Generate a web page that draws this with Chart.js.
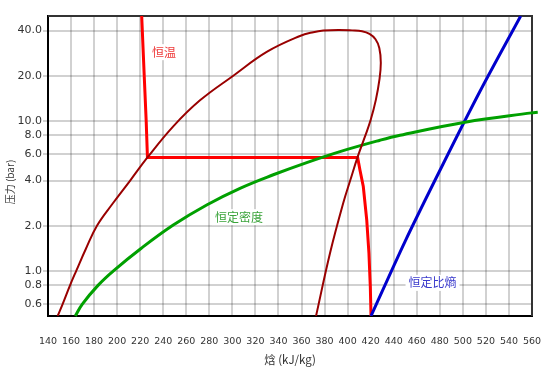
<!DOCTYPE html>
<html>
<head>
<meta charset="utf-8">
<script src="https://cdn.jsdelivr.net/npm/chart.js@4/dist/chart.umd.min.js"></script>
<style>
html,body{margin:0;padding:0;background:#fff;}
#c{display:block;}
</style>
</head>
<body>
<canvas id="c" width="552" height="370" style="width:552px;height:370px"></canvas>
<script>
// ---- axis ticks ----
const xTickValues = [140,160,180,200,220,240,260,280,300,320,340,360,380,400,420,440,460,480,500,520,540,560];
const yTickValues = [0.6,0.8,1.0,2.0,4.0,6.0,8.0,10.0,20.0,40.0];

// ---- saturation dome (enthalpy kJ/kg, pressure bar) ----
const domeH = [148.4,152.7,159.1,164.5,173.0,182.5,196.0,211.3,226.3,248.7,271.9,300.8,329.8,358.7,370.2,378.9,392.0,403.8,412.5,419.0,424.2,427.5,428.8,427.6,424.5,420.1,415.1,408.7,402.5,396.2,384.7,372.6];
const domeP = [0.5,0.6,0.8,1.0,1.41,2.0,2.8,4.0,5.7,9.19,13.7,20.0,28.8,36.8,39.0,40.0,40.4,40.1,39.6,38.0,35.0,30.6,24.4,18.8,13.8,10.2,7.87,5.75,4.06,2.83,1.31,0.5];

// ---- isotherm (恒温) ----
const isothermH = [221.3,223.5,225.2,226.3,408.7,410.7,413.6,416.6,418.5,419.7,420.3];
const isothermP = [50,20,10,5.7,5.7,4.7,3.65,2.18,1.31,0.78,0.5];

// ---- isochore (恒定密度) ----
const isochoreH = [163.7,169.8,183.4,196.8,220.7,248.7,277.7,306.6,335.5,364.5,393.4,428.1,445.5,501.9,559.7,565.0];
const isochoreP = [0.5,0.6,0.8,1.0,1.41,2.02,2.75,3.55,4.37,5.27,6.24,7.43,8.02,9.8,11.3,11.4];

// ---- isentrope (恒定比熵) ----
const isentropeH = [420.3,450.0,482.0,515.0,550.2];
const isentropeP = [0.5,1.58,5.0,15.8,50];

// ---- curve labels ----
const curveLabels = ['恒温','恒定密度','恒定比熵'];
const curveLabelH = [240.7,305.7,473.7];
const curveLabelP = [28.7,2.28,0.831];
const curveLabelColors = ['#ee3a3a','#3aa33a','#3a3acc'];

const toPts = (hs, ps) => hs.map((h, i) => ({x: h, y: ps[i]}));

const FONT = "'DejaVu Sans', Verdana, sans-serif";
const CJK = "'Noto Sans CJK SC', 'DejaVu Sans', sans-serif";

const framePlugin = {
  id: 'frame',
  beforeDatasetsDraw(chart) {
    const {ctx, chartArea: a} = chart;
    ctx.save();
    ctx.strokeStyle = '#333';
    ctx.lineWidth = 2;
    ctx.beginPath();
    ctx.moveTo(a.left, a.top);
    ctx.lineTo(a.right, a.top);
    ctx.lineTo(a.right, a.bottom);
    ctx.stroke();
    ctx.restore();
  },
  afterDatasetsDraw(chart) {
    const {ctx, scales: {x, y}} = chart;
    ctx.save();
    ctx.font = '12px ' + CJK;
    ctx.textBaseline = 'middle';
    ctx.textAlign = 'center';
    curveLabels.forEach((t, i) => {
      const px = x.getPixelForValue(curveLabelH[i]);
      const py = y.getPixelForValue(curveLabelP[i]);
      const w = ctx.measureText(t).width;
      ctx.fillStyle = '#fff';
      ctx.fillRect(px - w / 2 - 3, py - 8, w + 6, 16);
      ctx.fillStyle = curveLabelColors[i];
      ctx.fillText(t, px, py);
    });
    // y axis title
    ctx.translate(10, chart.height / 2 - 3);
    ctx.rotate(-Math.PI / 2);
    ctx.font = '10px ' + CJK;
    ctx.fillStyle = '#333';
    ctx.fillText('压力 (bar)', 0, 0);
    ctx.restore();
  }
};

new Chart(document.getElementById('c'), {
  type: 'scatter',
  data: {
    datasets: [
      {label: 'dome', data: toPts(domeH, domeP), borderColor: '#990000', borderWidth: 2, tension: 0.4},
      {label: '恒定密度', data: toPts(isochoreH, isochoreP), borderColor: '#00a000', borderWidth: 3, tension: 0.4,
       clip: {left: 2, top: 2, right: 8, bottom: 2}},
      {label: '恒定比熵', data: toPts(isentropeH, isentropeP), borderColor: '#0000cc', borderWidth: 3, tension: 0.3},
      {label: '恒温', data: toPts(isothermH, isothermP), borderColor: '#ff0000', borderWidth: 3, tension: 0}
    ].map(d => Object.assign({showLine: true, pointRadius: 0, pointHoverRadius: 0, fill: false}, d))
  },
  options: {
    responsive: false,
    devicePixelRatio: 1,
    animation: false,
    events: [],
    layout: {padding: {top: 16, right: 20, left: 0, bottom: 0}},
    plugins: {legend: {display: false}, tooltip: {enabled: false}},
    scales: {
      x: {
        type: 'linear', min: 140, max: 560,
        afterBuildTicks: s => { s.ticks = xTickValues.map(v => ({value: v})); },
        afterFit: s => { s.height = 54; s.paddingLeft = 0; s.paddingRight = 0; },
        ticks: {autoSkip: false, maxRotation: 0, padding: 20, color: '#333',
                font: {family: FONT, size: 9.5}, callback: v => String(v)},
        grid: {color: 'rgba(0,0,0,0.18)', lineWidth: 2, drawTicks: false},
        border: {color: '#000', width: 2},
        title: {display: true, text: '焓 (kJ/kg)', color: '#333',
                font: {family: CJK, size: 11.5}, padding: {top: 0, bottom: 3}}
      },
      y: {
        type: 'logarithmic', min: 0.5, max: 50,
        afterBuildTicks: s => { s.ticks = yTickValues.map(v => ({value: v})); },
        afterFit: s => { s.width = 48; s.paddingTop = 0; s.paddingBottom = 0; },
        ticks: {autoSkip: false, padding: 1, color: '#333',
                font: {family: FONT, size: 11}, callback: v => Number(v).toFixed(1)},
        grid: {color: 'rgba(0,0,0,0.18)', lineWidth: 2, tickLength: 5},
        border: {color: '#000', width: 2}
      }
    }
  },
  plugins: [framePlugin]
});
</script>
</body>
</html>
